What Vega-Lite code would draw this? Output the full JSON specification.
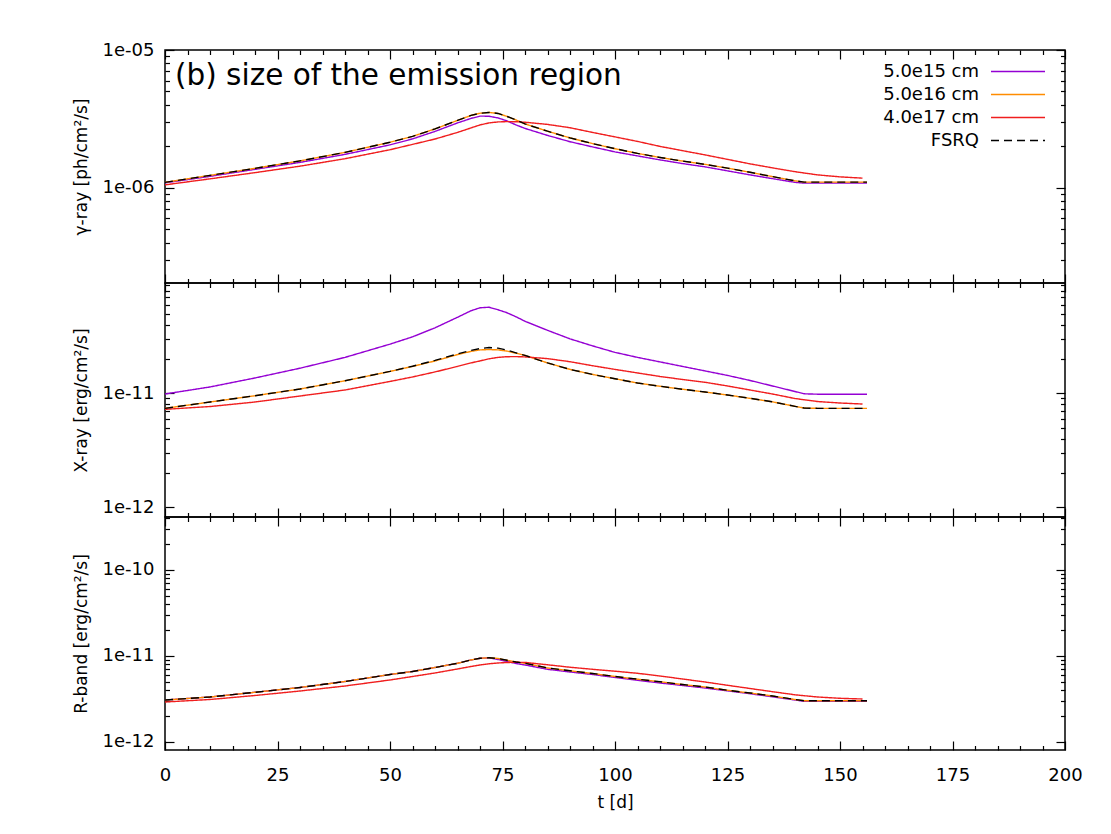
{
  "$schema": "https://vega.github.io/schema/vega-lite/v6.json",
  "background": "white",
  "padding": {"left": 71, "top": 40, "right": 10, "bottom": 10},
  "datasets": {
    "lc": [
      {"band": "gamma", "t": 0, "r15": 1.087e-6, "r16": 1.096e-6, "r17": 1.051e-6, "fsrq": 1.096e-6},
      {"band": "gamma", "t": 10, "r15": 1.212e-6, "r16": 1.232e-6, "r17": 1.162e-6, "fsrq": 1.232e-6},
      {"band": "gamma", "t": 20, "r15": 1.362e-6, "r16": 1.385e-6, "r17": 1.289e-6, "fsrq": 1.385e-6},
      {"band": "gamma", "t": 30, "r15": 1.530e-6, "r16": 1.569e-6, "r17": 1.436e-6, "fsrq": 1.569e-6},
      {"band": "gamma", "t": 40, "r15": 1.749e-6, "r16": 1.808e-6, "r17": 1.627e-6, "fsrq": 1.808e-6},
      {"band": "gamma", "t": 50, "r15": 2.050e-6, "r16": 2.140e-6, "r17": 1.890e-6, "fsrq": 2.140e-6},
      {"band": "gamma", "t": 55, "r15": 2.265e-6, "r16": 2.361e-6, "r17": 2.066e-6, "fsrq": 2.361e-6},
      {"band": "gamma", "t": 60, "r15": 2.567e-6, "r16": 2.677e-6, "r17": 2.260e-6, "fsrq": 2.677e-6},
      {"band": "gamma", "t": 65, "r15": 2.958e-6, "r16": 3.084e-6, "r17": 2.524e-6, "fsrq": 3.084e-6},
      {"band": "gamma", "t": 68, "r15": 3.189e-6, "r16": 3.352e-6, "r17": 2.721e-6, "fsrq": 3.352e-6},
      {"band": "gamma", "t": 70, "r15": 3.313e-6, "r16": 3.477e-6, "r17": 2.861e-6, "fsrq": 3.477e-6},
      {"band": "gamma", "t": 72, "r15": 3.308e-6, "r16": 3.524e-6, "r17": 2.958e-6, "fsrq": 3.524e-6},
      {"band": "gamma", "t": 74, "r15": 3.215e-6, "r16": 3.465e-6, "r17": 3.008e-6, "fsrq": 3.465e-6},
      {"band": "gamma", "t": 76, "r15": 3.058e-6, "r16": 3.297e-6, "r17": 3.023e-6, "fsrq": 3.297e-6},
      {"band": "gamma", "t": 78, "r15": 2.861e-6, "r16": 3.110e-6, "r17": 3.018e-6, "fsrq": 3.110e-6},
      {"band": "gamma", "t": 80, "r15": 2.699e-6, "r16": 2.909e-6, "r17": 2.993e-6, "fsrq": 2.909e-6},
      {"band": "gamma", "t": 85, "r15": 2.401e-6, "r16": 2.576e-6, "r17": 2.885e-6, "fsrq": 2.576e-6},
      {"band": "gamma", "t": 90, "r15": 2.161e-6, "r16": 2.303e-6, "r17": 2.730e-6, "fsrq": 2.303e-6},
      {"band": "gamma", "t": 95, "r15": 1.982e-6, "r16": 2.094e-6, "r17": 2.524e-6, "fsrq": 2.094e-6},
      {"band": "gamma", "t": 100, "r15": 1.823e-6, "r16": 1.923e-6, "r17": 2.342e-6, "fsrq": 1.923e-6},
      {"band": "gamma", "t": 105, "r15": 1.705e-6, "r16": 1.778e-6, "r17": 2.172e-6, "fsrq": 1.778e-6},
      {"band": "gamma", "t": 110, "r15": 1.595e-6, "r16": 1.661e-6, "r17": 1.998e-6, "fsrq": 1.661e-6},
      {"band": "gamma", "t": 115, "r15": 1.500e-6, "r16": 1.564e-6, "r17": 1.861e-6, "fsrq": 1.564e-6},
      {"band": "gamma", "t": 120, "r15": 1.420e-6, "r16": 1.480e-6, "r17": 1.734e-6, "fsrq": 1.480e-6},
      {"band": "gamma", "t": 125, "r15": 1.328e-6, "r16": 1.390e-6, "r17": 1.609e-6, "fsrq": 1.390e-6},
      {"band": "gamma", "t": 130, "r15": 1.242e-6, "r16": 1.297e-6, "r17": 1.493e-6, "fsrq": 1.297e-6},
      {"band": "gamma", "t": 135, "r15": 1.166e-6, "r16": 1.206e-6, "r17": 1.396e-6, "fsrq": 1.206e-6},
      {"band": "gamma", "t": 140, "r15": 1.096e-6, "r16": 1.124e-6, "r17": 1.310e-6, "fsrq": 1.124e-6},
      {"band": "gamma", "t": 142, "r15": 1.082e-6, "r16": 1.101e-6, "r17": 1.282e-6, "fsrq": 1.101e-6},
      {"band": "gamma", "t": 145, "r15": 1.082e-6, "r16": 1.100e-6, "r17": 1.242e-6, "fsrq": 1.100e-6},
      {"band": "gamma", "t": 150, "r15": 1.082e-6, "r16": 1.100e-6, "r17": 1.201e-6, "fsrq": 1.100e-6},
      {"band": "gamma", "t": 155, "r15": 1.082e-6, "r16": 1.100e-6, "r17": 1.176e-6, "fsrq": 1.100e-6},
      {"band": "gamma", "t": 156, "r15": 1.082e-6, "r16": 1.100e-6, "r17": null, "fsrq": 1.100e-6},
      {"band": "xray", "t": 0, "r15": 9.86e-12, "r16": 7.375e-12, "r17": 7.227e-12, "fsrq": 7.375e-12},
      {"band": "xray", "t": 10, "r15": 1.137e-11, "r16": 8.381e-12, "r17": 7.647e-12, "fsrq": 8.381e-12},
      {"band": "xray", "t": 20, "r15": 1.364e-11, "r16": 9.524e-12, "r17": 8.381e-12, "fsrq": 9.524e-12},
      {"band": "xray", "t": 30, "r15": 1.662e-11, "r16": 1.091e-11, "r17": 9.467e-12, "fsrq": 1.091e-11},
      {"band": "xray", "t": 40, "r15": 2.069e-11, "r16": 1.289e-11, "r17": 1.069e-11, "fsrq": 1.289e-11},
      {"band": "xray", "t": 50, "r15": 2.705e-11, "r16": 1.557e-11, "r17": 1.271e-11, "fsrq": 1.557e-11},
      {"band": "xray", "t": 55, "r15": 3.136e-11, "r16": 1.723e-11, "r17": 1.392e-11, "fsrq": 1.730e-11},
      {"band": "xray", "t": 60, "r15": 3.765e-11, "r16": 1.926e-11, "r17": 1.541e-11, "fsrq": 1.946e-11},
      {"band": "xray", "t": 65, "r15": 4.661e-11, "r16": 2.190e-11, "r17": 1.723e-11, "fsrq": 2.221e-11},
      {"band": "xray", "t": 68, "r15": 5.318e-11, "r16": 2.336e-11, "r17": 1.850e-11, "fsrq": 2.385e-11},
      {"band": "xray", "t": 70, "r15": 5.652e-11, "r16": 2.409e-11, "r17": 1.926e-11, "fsrq": 2.474e-11},
      {"band": "xray", "t": 72, "r15": 5.710e-11, "r16": 2.424e-11, "r17": 2.010e-11, "fsrq": 2.524e-11},
      {"band": "xray", "t": 74, "r15": 5.428e-11, "r16": 2.409e-11, "r17": 2.070e-11, "fsrq": 2.494e-11},
      {"band": "xray", "t": 76, "r15": 5.107e-11, "r16": 2.350e-11, "r17": 2.098e-11, "fsrq": 2.395e-11},
      {"band": "xray", "t": 78, "r15": 4.708e-11, "r16": 2.253e-11, "r17": 2.102e-11, "fsrq": 2.267e-11},
      {"band": "xray", "t": 80, "r15": 4.298e-11, "r16": 2.154e-11, "r17": 2.089e-11, "fsrq": 2.154e-11},
      {"band": "xray", "t": 85, "r15": 3.580e-11, "r16": 1.850e-11, "r17": 2.019e-11, "fsrq": 1.850e-11},
      {"band": "xray", "t": 90, "r15": 3.011e-11, "r16": 1.622e-11, "r17": 1.896e-11, "fsrq": 1.622e-11},
      {"band": "xray", "t": 95, "r15": 2.613e-11, "r16": 1.465e-11, "r17": 1.748e-11, "fsrq": 1.465e-11},
      {"band": "xray", "t": 100, "r15": 2.290e-11, "r16": 1.342e-11, "r17": 1.622e-11, "fsrq": 1.342e-11},
      {"band": "xray", "t": 105, "r15": 2.069e-11, "r16": 1.232e-11, "r17": 1.510e-11, "fsrq": 1.232e-11},
      {"band": "xray", "t": 110, "r15": 1.888e-11, "r16": 1.153e-11, "r17": 1.406e-11, "fsrq": 1.153e-11},
      {"band": "xray", "t": 115, "r15": 1.723e-11, "r16": 1.085e-11, "r17": 1.323e-11, "fsrq": 1.085e-11},
      {"band": "xray", "t": 120, "r15": 1.573e-11, "r16": 1.027e-11, "r17": 1.250e-11, "fsrq": 1.027e-11},
      {"band": "xray", "t": 125, "r15": 1.436e-11, "r16": 9.66e-12, "r17": 1.160e-11, "fsrq": 9.66e-12},
      {"band": "xray", "t": 130, "r15": 1.297e-11, "r16": 9.03e-12, "r17": 1.069e-11, "fsrq": 9.03e-12},
      {"band": "xray", "t": 135, "r15": 1.160e-11, "r16": 8.41e-12, "r17": 9.86e-12, "fsrq": 8.41e-12},
      {"band": "xray", "t": 140, "r15": 1.037e-11, "r16": 7.68e-12, "r17": 8.995e-12, "fsrq": 7.68e-12},
      {"band": "xray", "t": 142, "r15": 9.90e-12, "r16": 7.42e-12, "r17": 8.78e-12, "fsrq": 7.42e-12},
      {"band": "xray", "t": 145, "r15": 9.82e-12, "r16": 7.375e-12, "r17": 8.466e-12, "fsrq": 7.375e-12},
      {"band": "xray", "t": 150, "r15": 9.80e-12, "r16": 7.375e-12, "r17": 8.213e-12, "fsrq": 7.375e-12},
      {"band": "xray", "t": 155, "r15": 9.80e-12, "r16": 7.375e-12, "r17": 8.048e-12, "fsrq": 7.375e-12},
      {"band": "xray", "t": 156, "r15": 9.80e-12, "r16": 7.375e-12, "r17": null, "fsrq": 7.375e-12},
      {"band": "rband", "t": 0, "r15": 3.078e-12, "r16": 3.078e-12, "r17": 2.917e-12, "fsrq": 3.078e-12},
      {"band": "rband", "t": 10, "r15": 3.336e-12, "r16": 3.336e-12, "r17": 3.119e-12, "fsrq": 3.336e-12},
      {"band": "rband", "t": 20, "r15": 3.784e-12, "r16": 3.784e-12, "r17": 3.472e-12, "fsrq": 3.784e-12},
      {"band": "rband", "t": 30, "r15": 4.302e-12, "r16": 4.302e-12, "r17": 3.917e-12, "fsrq": 4.302e-12},
      {"band": "rband", "t": 40, "r15": 5.051e-12, "r16": 5.051e-12, "r17": 4.478e-12, "fsrq": 5.051e-12},
      {"band": "rband", "t": 50, "r15": 6.093e-12, "r16": 6.093e-12, "r17": 5.259e-12, "fsrq": 6.093e-12},
      {"band": "rband", "t": 55, "r15": 6.603e-12, "r16": 6.603e-12, "r17": 5.775e-12, "fsrq": 6.603e-12},
      {"band": "rband", "t": 60, "r15": 7.350e-12, "r16": 7.350e-12, "r17": 6.343e-12, "fsrq": 7.350e-12},
      {"band": "rband", "t": 65, "r15": 8.225e-12, "r16": 8.225e-12, "r17": 7.061e-12, "fsrq": 8.225e-12},
      {"band": "rband", "t": 68, "r15": 8.985e-12, "r16": 8.985e-12, "r17": 7.550e-12, "fsrq": 8.985e-12},
      {"band": "rband", "t": 70, "r15": 9.40e-12, "r16": 9.40e-12, "r17": 7.858e-12, "fsrq": 9.40e-12},
      {"band": "rband", "t": 72, "r15": 9.50e-12, "r16": 9.55e-12, "r17": 8.116e-12, "fsrq": 9.55e-12},
      {"band": "rband", "t": 74, "r15": 9.107e-12, "r16": 9.35e-12, "r17": 8.291e-12, "fsrq": 9.35e-12},
      {"band": "rband", "t": 76, "r15": 8.630e-12, "r16": 8.913e-12, "r17": 8.403e-12, "fsrq": 8.913e-12},
      {"band": "rband", "t": 78, "r15": 8.181e-12, "r16": 8.516e-12, "r17": 8.448e-12, "fsrq": 8.516e-12},
      {"band": "rband", "t": 80, "r15": 7.858e-12, "r16": 8.225e-12, "r17": 8.420e-12, "fsrq": 8.225e-12},
      {"band": "rband", "t": 85, "r15": 7.002e-12, "r16": 7.253e-12, "r17": 7.900e-12, "fsrq": 7.253e-12},
      {"band": "rband", "t": 90, "r15": 6.516e-12, "r16": 6.727e-12, "r17": 7.400e-12, "fsrq": 6.727e-12},
      {"band": "rband", "t": 95, "r15": 6.093e-12, "r16": 6.257e-12, "r17": 7.002e-12, "fsrq": 6.257e-12},
      {"band": "rband", "t": 100, "r15": 5.623e-12, "r16": 5.775e-12, "r17": 6.656e-12, "fsrq": 5.775e-12},
      {"band": "rband", "t": 105, "r15": 5.216e-12, "r16": 5.372e-12, "r17": 6.292e-12, "fsrq": 5.372e-12},
      {"band": "rband", "t": 110, "r15": 4.853e-12, "r16": 5.012e-12, "r17": 5.853e-12, "fsrq": 5.012e-12},
      {"band": "rband", "t": 115, "r15": 4.539e-12, "r16": 4.661e-12, "r17": 5.401e-12, "fsrq": 4.661e-12},
      {"band": "rband", "t": 120, "r15": 4.244e-12, "r16": 4.358e-12, "r17": 4.985e-12, "fsrq": 4.358e-12},
      {"band": "rband", "t": 125, "r15": 3.937e-12, "r16": 3.992e-12, "r17": 4.564e-12, "fsrq": 3.992e-12},
      {"band": "rband", "t": 130, "r15": 3.643e-12, "r16": 3.713e-12, "r17": 4.188e-12, "fsrq": 3.713e-12},
      {"band": "rband", "t": 135, "r15": 3.353e-12, "r16": 3.426e-12, "r17": 3.845e-12, "fsrq": 3.426e-12},
      {"band": "rband", "t": 140, "r15": 3.078e-12, "r16": 3.119e-12, "r17": 3.538e-12, "fsrq": 3.119e-12},
      {"band": "rband", "t": 142, "r15": 2.973e-12, "r16": 3.020e-12, "r17": 3.454e-12, "fsrq": 3.020e-12},
      {"band": "rband", "t": 145, "r15": 2.973e-12, "r16": 3.020e-12, "r17": 3.336e-12, "fsrq": 3.020e-12},
      {"band": "rband", "t": 150, "r15": 2.973e-12, "r16": 3.020e-12, "r17": 3.221e-12, "fsrq": 3.020e-12},
      {"band": "rband", "t": 155, "r15": 2.973e-12, "r16": 3.020e-12, "r17": 3.162e-12, "fsrq": 3.020e-12},
      {"band": "rband", "t": 156, "r15": 2.973e-12, "r16": 3.020e-12, "r17": null, "fsrq": 3.020e-12}
    ]
  },
  "data": {"name": "lc"},
  "spacing": 0,
  "bounds": "flush",
  "resolve": {"legend": {"color": "independent", "strokeDash": "independent", "strokeWidth": "independent"}},
  "vconcat": [
    {
      "width": 900,
      "height": 233,
      "title": {"text": "(b) size of the emission region", "anchor": "start", "frame": "group", "orient": "top", "baseline": "alphabetic", "offset": -35, "dx": 10, "dy": 38, "fontSize": 29.5, "fontWeight": "normal", "font": "DejaVu Sans", "color": "black"},
      "transform": [{"filter": "datum.band == 'gamma'"}, {"fold": ["r15", "r16", "r17", "fsrq"], "as": ["series", "flux"]}],
      "resolve": {"axis": {"x": "independent", "y": "independent"}},
      "layer": [
        {
          "mark": {"type": "line"},
          "encoding": {
            "x": {"field": "t", "type": "quantitative", "scale": {"domain": [0, 200], "nice": false, "zero": false}, "axis": null},
            "y": {"field": "flux", "type": "quantitative", "scale": {"type": "log", "domain": [2.04e-7, 1e-5], "nice": false}, "axis": {"orient": "left", "values": [1e-6, 1e-5], "ticks": false, "tickSize": 0, "labelPadding": 11, "labelExpr": "'1e-' + (round(-log(datum.value)/LN10) < 10 ? '0' : '') + round(-log(datum.value)/LN10)", "title": "γ-ray [ph/cm²/s]", "titlePadding": 12}},
            "color": {"field": "series", "type": "nominal", "scale": {"domain": ["r15", "r16", "r17", "fsrq"], "range": ["#9400d3", "#ff8c00", "#f01e1e", "black"]}, "legend": {"orient": "none", "legendX": 714, "legendY": 10, "title": null, "padding": 0, "rowPadding": 2, "symbolType": "stroke", "symbolSize": 2916, "symbolStrokeWidth": 1.5, "labelFontSize": 18, "labelFont": "DejaVu Sans", "labelColor": "black", "labelLimit": 300, "labelExpr": "datum.label == 'r15' ? '5.0e15 cm' : datum.label == 'r16' ? '5.0e16 cm' : datum.label == 'r17' ? '4.0e17 cm' : 'FSRQ'", "encode": {"labels": {"update": {"x": {"value": 100}, "y": {"value": 11.5}, "align": {"value": "right"}}}, "symbols": {"update": {"x": {"value": 139}, "y": {"value": 11.5}}}}}},
            "strokeDash": {"field": "series", "type": "nominal", "scale": {"domain": ["r15", "r16", "r17", "fsrq"], "range": [[1, 0], [1, 0], [1, 0], [8, 5]]}},
            "strokeWidth": {"field": "series", "type": "nominal", "scale": {"domain": ["r15", "r16", "r17", "fsrq"], "range": [1.4, 1.4, 1.4, 2.2]}}
          }
        },
        {
          "mark": {"type": "point", "opacity": 0},
          "encoding": {
            "x": {"field": "t", "type": "quantitative", "scale": {"domain": [0, 200], "nice": false, "zero": false}, "axis": {"orient": "bottom", "values": [0, 25, 50, 75, 100, 125, 150, 175, 200], "labels": false, "tickSize": -9, "title": null}},
            "y": {"field": "flux", "type": "quantitative", "scale": {"type": "log", "domain": [2.04e-7, 1e-5], "nice": false}, "axis": {"orient": "left", "values": [1e-6, 1e-5], "labels": false, "tickSize": -9, "title": null}}
          }
        },
        {
          "mark": {"type": "point", "opacity": 0},
          "encoding": {
            "x": {"field": "t", "type": "quantitative", "scale": {"domain": [0, 200], "nice": false, "zero": false}, "axis": {"orient": "bottom", "values": [5, 10, 15, 20, 30, 35, 40, 45, 55, 60, 65, 70, 80, 85, 90, 95, 105, 110, 115, 120, 130, 135, 140, 145, 155, 160, 165, 170, 180, 185, 190, 195], "labels": false, "tickSize": -4.5, "title": null}},
            "y": {"field": "flux", "type": "quantitative", "scale": {"type": "log", "domain": [2.04e-7, 1e-5], "nice": false}, "axis": {"orient": "left", "values": [3e-7, 4e-7, 5e-7, 6e-7, 7e-7, 8e-7, 9e-7, 2e-6, 3e-6, 4e-6, 5e-6, 6e-6, 7e-6, 8e-6, 9e-6], "labels": false, "tickSize": -4.5, "title": null}}
          }
        },
        {
          "mark": {"type": "point", "opacity": 0},
          "encoding": {
            "x": {"field": "t", "type": "quantitative", "scale": {"domain": [0, 200], "nice": false, "zero": false}, "axis": {"orient": "top", "values": [0, 25, 50, 75, 100, 125, 150, 175, 200], "labels": false, "tickSize": -9, "title": null}},
            "y": {"field": "flux", "type": "quantitative", "scale": {"type": "log", "domain": [2.04e-7, 1e-5], "nice": false}, "axis": {"orient": "right", "values": [1e-6, 1e-5], "labels": false, "tickSize": -9, "title": null}}
          }
        },
        {
          "mark": {"type": "point", "opacity": 0},
          "encoding": {
            "x": {"field": "t", "type": "quantitative", "scale": {"domain": [0, 200], "nice": false, "zero": false}, "axis": {"orient": "top", "values": [5, 10, 15, 20, 30, 35, 40, 45, 55, 60, 65, 70, 80, 85, 90, 95, 105, 110, 115, 120, 130, 135, 140, 145, 155, 160, 165, 170, 180, 185, 190, 195], "labels": false, "tickSize": -4.5, "title": null}},
            "y": {"field": "flux", "type": "quantitative", "scale": {"type": "log", "domain": [2.04e-7, 1e-5], "nice": false}, "axis": {"orient": "right", "values": [3e-7, 4e-7, 5e-7, 6e-7, 7e-7, 8e-7, 9e-7, 2e-6, 3e-6, 4e-6, 5e-6, 6e-6, 7e-6, 8e-6, 9e-6], "labels": false, "tickSize": -4.5, "title": null}}
          }
        }
      ]
    },
    {
      "width": 900,
      "height": 234,
      "transform": [{"filter": "datum.band == 'xray'"}, {"fold": ["r15", "r16", "r17", "fsrq"], "as": ["series", "flux"]}],
      "resolve": {"axis": {"x": "independent", "y": "independent"}},
      "layer": [
        {
          "mark": {"type": "line"},
          "encoding": {
            "x": {"field": "t", "type": "quantitative", "scale": {"domain": [0, 200], "nice": false, "zero": false}, "axis": null},
            "y": {"field": "flux", "type": "quantitative", "scale": {"type": "log", "domain": [8.17e-13, 9.33e-11], "nice": false}, "axis": {"orient": "left", "values": [1e-12, 1e-11], "ticks": false, "tickSize": 0, "labelPadding": 11, "labelExpr": "'1e-' + (round(-log(datum.value)/LN10) < 10 ? '0' : '') + round(-log(datum.value)/LN10)", "title": "X-ray [erg/cm²/s]", "titlePadding": 12}},
            "color": {"field": "series", "type": "nominal", "scale": {"domain": ["r15", "r16", "r17", "fsrq"], "range": ["#9400d3", "#ff8c00", "#f01e1e", "black"]}, "legend": null},
            "strokeDash": {"field": "series", "type": "nominal", "scale": {"domain": ["r15", "r16", "r17", "fsrq"], "range": [[1, 0], [1, 0], [1, 0], [8, 5]]}, "legend": null},
            "strokeWidth": {"field": "series", "type": "nominal", "scale": {"domain": ["r15", "r16", "r17", "fsrq"], "range": [1.4, 1.4, 1.4, 2.2]}, "legend": null}
          }
        },
        {
          "mark": {"type": "point", "opacity": 0},
          "encoding": {
            "x": {"field": "t", "type": "quantitative", "scale": {"domain": [0, 200], "nice": false, "zero": false}, "axis": {"orient": "bottom", "values": [0, 25, 50, 75, 100, 125, 150, 175, 200], "labels": false, "tickSize": -9, "title": null}},
            "y": {"field": "flux", "type": "quantitative", "scale": {"type": "log", "domain": [8.17e-13, 9.33e-11], "nice": false}, "axis": {"orient": "left", "values": [1e-12, 1e-11], "labels": false, "tickSize": -9, "title": null}}
          }
        },
        {
          "mark": {"type": "point", "opacity": 0},
          "encoding": {
            "x": {"field": "t", "type": "quantitative", "scale": {"domain": [0, 200], "nice": false, "zero": false}, "axis": {"orient": "bottom", "values": [5, 10, 15, 20, 30, 35, 40, 45, 55, 60, 65, 70, 80, 85, 90, 95, 105, 110, 115, 120, 130, 135, 140, 145, 155, 160, 165, 170, 180, 185, 190, 195], "labels": false, "tickSize": -4.5, "title": null}},
            "y": {"field": "flux", "type": "quantitative", "scale": {"type": "log", "domain": [8.17e-13, 9.33e-11], "nice": false}, "axis": {"orient": "left", "values": [2e-12, 3e-12, 4e-12, 5e-12, 6e-12, 7e-12, 8e-12, 9e-12, 2e-11, 3e-11, 4e-11, 5e-11, 6e-11, 7e-11, 8e-11, 9e-11], "labels": false, "tickSize": -4.5, "title": null}}
          }
        },
        {
          "mark": {"type": "point", "opacity": 0},
          "encoding": {
            "x": {"field": "t", "type": "quantitative", "scale": {"domain": [0, 200], "nice": false, "zero": false}, "axis": {"orient": "top", "values": [0, 25, 50, 75, 100, 125, 150, 175, 200], "labels": false, "tickSize": -9, "title": null}},
            "y": {"field": "flux", "type": "quantitative", "scale": {"type": "log", "domain": [8.17e-13, 9.33e-11], "nice": false}, "axis": {"orient": "right", "values": [1e-12, 1e-11], "labels": false, "tickSize": -9, "title": null}}
          }
        },
        {
          "mark": {"type": "point", "opacity": 0},
          "encoding": {
            "x": {"field": "t", "type": "quantitative", "scale": {"domain": [0, 200], "nice": false, "zero": false}, "axis": {"orient": "top", "values": [5, 10, 15, 20, 30, 35, 40, 45, 55, 60, 65, 70, 80, 85, 90, 95, 105, 110, 115, 120, 130, 135, 140, 145, 155, 160, 165, 170, 180, 185, 190, 195], "labels": false, "tickSize": -4.5, "title": null}},
            "y": {"field": "flux", "type": "quantitative", "scale": {"type": "log", "domain": [8.17e-13, 9.33e-11], "nice": false}, "axis": {"orient": "right", "values": [2e-12, 3e-12, 4e-12, 5e-12, 6e-12, 7e-12, 8e-12, 9e-12, 2e-11, 3e-11, 4e-11, 5e-11, 6e-11, 7e-11, 8e-11, 9e-11], "labels": false, "tickSize": -4.5, "title": null}}
          }
        }
      ]
    },
    {
      "width": 900,
      "height": 233,
      "transform": [{"filter": "datum.band == 'rband'"}, {"fold": ["r15", "r16", "r17", "fsrq"], "as": ["series", "flux"]}],
      "resolve": {"axis": {"x": "independent", "y": "independent"}},
      "layer": [
        {
          "mark": {"type": "line"},
          "encoding": {
            "x": {"field": "t", "type": "quantitative", "scale": {"domain": [0, 200], "nice": false, "zero": false}, "axis": {"orient": "bottom", "values": [0, 25, 50, 75, 100, 125, 150, 175, 200], "format": "d", "ticks": false, "tickSize": 0, "labelPadding": 16, "title": "t [d]", "titlePadding": 10}},
            "y": {"field": "flux", "type": "quantitative", "scale": {"type": "log", "domain": [8.07e-13, 4.13e-10], "nice": false}, "axis": {"orient": "left", "values": [1e-12, 1e-11, 1e-10], "ticks": false, "tickSize": 0, "labelPadding": 11, "labelExpr": "'1e-' + (round(-log(datum.value)/LN10) < 10 ? '0' : '') + round(-log(datum.value)/LN10)", "title": "R-band [erg/cm²/s]", "titlePadding": 12}},
            "color": {"field": "series", "type": "nominal", "scale": {"domain": ["r15", "r16", "r17", "fsrq"], "range": ["#9400d3", "#ff8c00", "#f01e1e", "black"]}, "legend": null},
            "strokeDash": {"field": "series", "type": "nominal", "scale": {"domain": ["r15", "r16", "r17", "fsrq"], "range": [[1, 0], [1, 0], [1, 0], [8, 5]]}, "legend": null},
            "strokeWidth": {"field": "series", "type": "nominal", "scale": {"domain": ["r15", "r16", "r17", "fsrq"], "range": [1.4, 1.4, 1.4, 2.2]}, "legend": null}
          }
        },
        {
          "mark": {"type": "point", "opacity": 0},
          "encoding": {
            "x": {"field": "t", "type": "quantitative", "scale": {"domain": [0, 200], "nice": false, "zero": false}, "axis": {"orient": "bottom", "values": [0, 25, 50, 75, 100, 125, 150, 175, 200], "labels": false, "tickSize": -9, "title": null}},
            "y": {"field": "flux", "type": "quantitative", "scale": {"type": "log", "domain": [8.07e-13, 4.13e-10], "nice": false}, "axis": {"orient": "left", "values": [1e-12, 1e-11, 1e-10], "labels": false, "tickSize": -9, "title": null}}
          }
        },
        {
          "mark": {"type": "point", "opacity": 0},
          "encoding": {
            "x": {"field": "t", "type": "quantitative", "scale": {"domain": [0, 200], "nice": false, "zero": false}, "axis": {"orient": "bottom", "values": [5, 10, 15, 20, 30, 35, 40, 45, 55, 60, 65, 70, 80, 85, 90, 95, 105, 110, 115, 120, 130, 135, 140, 145, 155, 160, 165, 170, 180, 185, 190, 195], "labels": false, "tickSize": -4.5, "title": null}},
            "y": {"field": "flux", "type": "quantitative", "scale": {"type": "log", "domain": [8.07e-13, 4.13e-10], "nice": false}, "axis": {"orient": "left", "values": [2e-12, 3e-12, 4e-12, 5e-12, 6e-12, 7e-12, 8e-12, 9e-12, 2e-11, 3e-11, 4e-11, 5e-11, 6e-11, 7e-11, 8e-11, 9e-11, 2e-10, 3e-10, 4e-10], "labels": false, "tickSize": -4.5, "title": null}}
          }
        },
        {
          "mark": {"type": "point", "opacity": 0},
          "encoding": {
            "x": {"field": "t", "type": "quantitative", "scale": {"domain": [0, 200], "nice": false, "zero": false}, "axis": {"orient": "top", "values": [0, 25, 50, 75, 100, 125, 150, 175, 200], "labels": false, "tickSize": -9, "title": null}},
            "y": {"field": "flux", "type": "quantitative", "scale": {"type": "log", "domain": [8.07e-13, 4.13e-10], "nice": false}, "axis": {"orient": "right", "values": [1e-12, 1e-11, 1e-10], "labels": false, "tickSize": -9, "title": null}}
          }
        },
        {
          "mark": {"type": "point", "opacity": 0},
          "encoding": {
            "x": {"field": "t", "type": "quantitative", "scale": {"domain": [0, 200], "nice": false, "zero": false}, "axis": {"orient": "top", "values": [5, 10, 15, 20, 30, 35, 40, 45, 55, 60, 65, 70, 80, 85, 90, 95, 105, 110, 115, 120, 130, 135, 140, 145, 155, 160, 165, 170, 180, 185, 190, 195], "labels": false, "tickSize": -4.5, "title": null}},
            "y": {"field": "flux", "type": "quantitative", "scale": {"type": "log", "domain": [8.07e-13, 4.13e-10], "nice": false}, "axis": {"orient": "right", "values": [2e-12, 3e-12, 4e-12, 5e-12, 6e-12, 7e-12, 8e-12, 9e-12, 2e-11, 3e-11, 4e-11, 5e-11, 6e-11, 7e-11, 8e-11, 9e-11, 2e-10, 3e-10, 4e-10], "labels": false, "tickSize": -4.5, "title": null}}
          }
        }
      ]
    }
  ],
  "config": {
    "font": "DejaVu Sans",
    "view": {"stroke": "black", "strokeWidth": 1.5},
    "axis": {
      "domain": false,
      "grid": false,
      "tickColor": "black",
      "tickWidth": 1.2,
      "labelFont": "DejaVu Sans",
      "labelFontSize": 18,
      "labelColor": "black",
      "labelFlush": false,
      "labelOverlap": false,
      "titleFont": "DejaVu Sans",
      "titleFontSize": 17,
      "titleFontWeight": "normal",
      "titleColor": "black"
    }
  }
}
